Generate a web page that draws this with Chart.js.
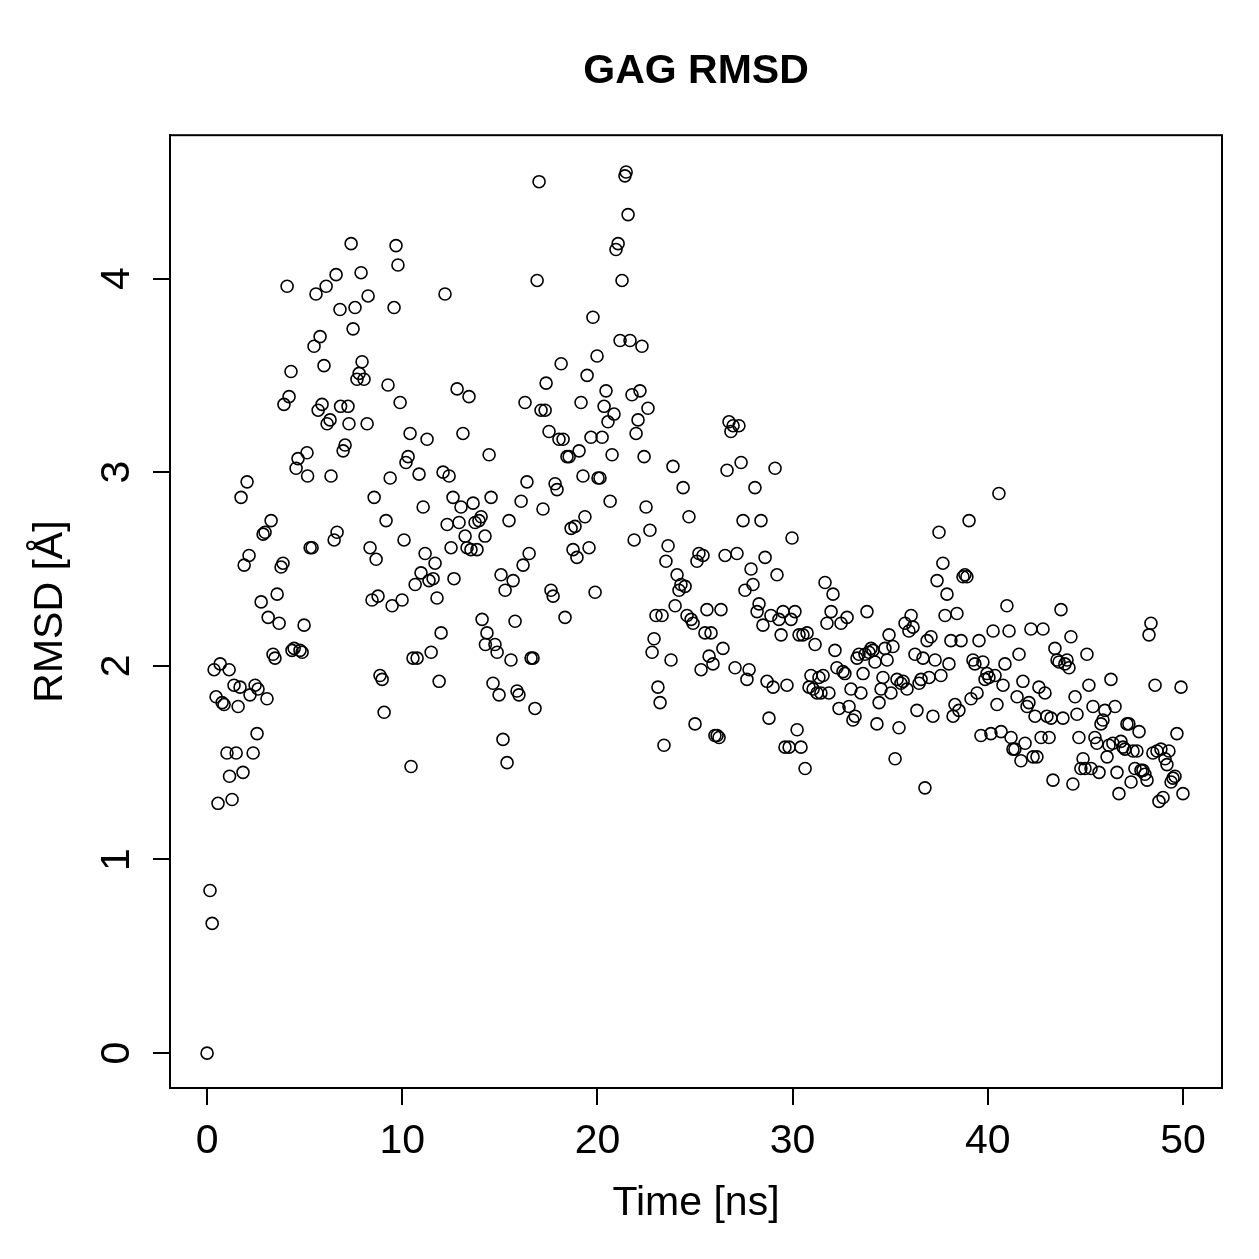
<!DOCTYPE html>
<html>
<head>
<meta charset="utf-8">
<title>GAG RMSD</title>
<script src="https://cdn.jsdelivr.net/npm/chart.js@4.4.1/dist/chart.umd.min.js"></script>
<style>
  html, body { margin: 0; padding: 0; background: #fff; }
  #wrap { width: 1259px; height: 1259px; }
</style>
</head>
<body>
<div id="wrap"><canvas id="rmsd" width="1259" height="1259"></canvas></div>
<script>
// tiempo de simulación (ns)
const timeNs = [
  0.00, 0.15, 0.26, 0.36, 0.46, 0.56, 0.67, 0.77, 0.87, 1.02,
  1.13, 1.15, 1.28, 1.38, 1.49, 1.59, 1.69, 1.74, 1.84, 1.90,
  2.05, 2.15, 2.20, 2.36, 2.46, 2.56, 2.61, 2.77, 2.87, 2.97,
  3.07, 3.13, 3.28, 3.38, 3.48, 3.59, 3.69, 3.79, 3.89, 3.94,
  4.10, 4.20, 4.30, 4.35, 4.46, 4.56, 4.66, 4.76, 4.87, 4.97,
  5.12, 5.15, 5.28, 5.38, 5.48, 5.58, 5.69, 5.79, 5.89, 5.99,
  6.10, 6.15, 6.30, 6.35, 6.51, 6.61, 6.66, 6.81, 6.84, 6.97,
  7.07, 7.22, 7.27, 7.38, 7.48, 7.58, 7.68, 7.79, 7.89, 7.94,
  8.04, 8.20, 8.25, 8.35, 8.45, 8.56, 8.66, 8.76, 8.86, 8.97,
  9.07, 9.17, 9.27, 9.38, 9.48, 9.58, 9.68, 9.78, 9.89, 9.99,
  10.09, 10.19, 10.30, 10.40, 10.45, 10.55, 10.66, 10.76, 10.86, 10.96,
  11.07, 11.17, 11.27, 11.37, 11.48, 11.58, 11.68, 11.78, 11.89, 11.99,
  12.09, 12.19, 12.30, 12.40, 12.50, 12.60, 12.65, 12.81, 12.91, 13.01,
  13.11, 13.22, 13.32, 13.42, 13.52, 13.63, 13.73, 13.83, 13.93, 14.04,
  14.09, 14.24, 14.26, 14.34, 14.45, 14.55, 14.65, 14.75, 14.86, 14.96,
  15.06, 15.16, 15.27, 15.37, 15.47, 15.57, 15.68, 15.78, 15.88, 15.98,
  16.09, 16.19, 16.29, 16.39, 16.50, 16.60, 16.70, 16.80, 16.91, 17.01,
  17.11, 17.21, 17.32, 17.37, 17.52, 17.62, 17.73, 17.83, 17.93, 18.03,
  18.14, 18.24, 18.34, 18.44, 18.55, 18.65, 18.75, 18.85, 18.95, 19.06,
  19.16, 19.26, 19.36, 19.47, 19.57, 19.67, 19.77, 19.88, 19.98, 20.03,
  20.13, 20.24, 20.34, 20.44, 20.54, 20.65, 20.75, 20.85, 20.95, 21.06,
  21.16, 21.26, 21.41, 21.47, 21.57, 21.67, 21.77, 21.88, 21.98, 22.08,
  22.18, 22.28, 22.39, 22.49, 22.59, 22.69, 22.80, 22.90, 23.00, 23.10,
  23.21, 23.31, 23.41, 23.51, 23.62, 23.77, 23.87, 23.98, 24.08, 24.18,
  24.28, 24.39, 24.49, 24.59, 24.69, 24.80, 24.90, 25.00, 25.10, 25.20,
  25.31, 25.41, 25.51, 25.61, 25.72, 25.82, 25.92, 26.02, 26.13, 26.23,
  26.33, 26.43, 26.54, 26.64, 26.74, 26.84, 26.95, 27.05, 27.15, 27.25,
  27.36, 27.46, 27.56, 27.66, 27.77, 27.87, 27.97, 28.07, 28.18, 28.28,
  28.38, 28.48, 28.59, 28.69, 28.79, 28.89, 29.00, 29.10, 29.20, 29.30,
  29.41, 29.51, 29.61, 29.71, 29.82, 29.92, 29.97, 30.12, 30.23, 30.33,
  30.43, 30.53, 30.64, 30.74, 30.84, 30.94, 31.05, 31.15, 31.25, 31.35,
  31.45, 31.56, 31.66, 31.76, 31.86, 31.97, 32.07, 32.17, 32.27, 32.38,
  32.48, 32.58, 32.68, 32.79, 32.89, 32.99, 33.09, 33.20, 33.30, 33.40,
  33.50, 33.61, 33.71, 33.81, 33.91, 34.02, 34.12, 34.22, 34.32, 34.43,
  34.53, 34.63, 34.73, 34.84, 34.94, 35.04, 35.14, 35.25, 35.35, 35.45,
  35.55, 35.66, 35.76, 35.86, 35.96, 36.07, 36.17, 36.27, 36.37, 36.48,
  36.58, 36.68, 36.78, 36.89, 36.99, 37.09, 37.19, 37.30, 37.40, 37.50,
  37.60, 37.70, 37.81, 37.91, 38.01, 38.11, 38.22, 38.32, 38.42, 38.52,
  38.63, 38.73, 38.83, 38.93, 39.04, 39.14, 39.24, 39.34, 39.45, 39.55,
  39.65, 39.75, 39.86, 39.96, 40.06, 40.16, 40.27, 40.37, 40.47, 40.57,
  40.68, 40.78, 40.88, 40.98, 41.09, 41.19, 41.29, 41.39, 41.50, 41.60,
  41.70, 41.80, 41.91, 42.01, 42.11, 42.21, 42.32, 42.42, 42.52, 42.62,
  42.73, 42.83, 42.93, 43.03, 43.14, 43.24, 43.34, 43.44, 43.55, 43.65,
  43.75, 43.85, 43.95, 44.06, 44.16, 44.26, 44.36, 44.47, 44.57, 44.67,
  44.77, 44.88, 44.98, 45.08, 45.18, 45.29, 45.39, 45.49, 45.59, 45.70,
  45.80, 45.90, 46.00, 46.11, 46.21, 46.31, 46.41, 46.52, 46.62, 46.72,
  46.82, 46.93, 47.03, 47.13, 47.23, 47.34, 47.44, 47.54, 47.64, 47.75,
  47.85, 47.95, 48.05, 48.16, 48.26, 48.36, 48.46, 48.57, 48.67, 48.77,
  48.87, 48.98, 49.08, 49.18, 49.28, 49.39, 49.49, 49.59, 49.69, 49.90,
  50.00
];

// RMSD (Å)
const rmsd = [
  0.00, 0.84, 0.67, 1.98, 1.84, 1.29, 2.01, 1.81, 1.80, 1.55,
  1.98, 1.43, 1.31, 1.90, 1.55, 1.79, 1.89, 2.87, 1.45, 2.52,
  2.95, 2.57, 1.85, 1.55, 1.90, 1.65, 1.88, 2.33, 2.68, 2.69,
  1.83, 2.25, 2.75, 2.06, 2.04, 2.37, 2.22, 2.51, 2.53, 3.35,
  3.96, 3.39, 3.52, 2.08, 2.09, 3.02, 3.07, 2.08, 2.07, 2.21,
  3.10, 2.98, 2.61, 2.61, 3.65, 3.92, 3.32, 3.70, 3.35, 3.55,
  3.96, 3.25, 3.27, 2.98, 2.65, 4.02, 2.69, 3.84, 3.34, 3.11,
  3.14, 3.34, 3.25, 4.18, 3.74, 3.85, 3.48, 3.51, 4.03, 3.57,
  3.48, 3.25, 3.91, 2.61, 2.34, 2.87, 2.55, 2.36, 1.95, 1.93,
  1.76, 2.75, 3.45, 2.97, 2.31, 3.85, 4.17, 4.07, 3.36, 2.34,
  2.65, 3.05, 3.08, 3.20, 1.48, 2.04, 2.42, 2.04, 2.99, 2.48,
  2.82, 2.58, 3.17, 2.44, 2.07, 2.45, 2.53, 2.35, 1.92, 2.17,
  3.00, 3.92, 2.73, 2.98, 2.61, 2.87, 2.45, 3.43, 2.74, 2.82,
  3.20, 2.67, 2.61, 3.39, 2.60, 2.84, 2.74, 2.60, 2.75, 2.77,
  2.24, 2.67, 2.11, 2.17, 3.09, 2.87, 1.91, 2.11, 2.07, 1.85,
  2.47, 1.62, 2.39, 1.50, 2.75, 2.03, 2.44, 2.23, 1.87, 1.85,
  2.85, 2.52, 3.36, 2.95, 2.58, 2.04, 2.04, 1.78, 3.99, 4.50,
  3.32, 2.81, 3.32, 3.46, 3.21, 2.39, 2.36, 2.94, 2.91, 3.17,
  3.56, 3.17, 2.25, 3.08, 3.08, 2.71, 2.60, 2.72, 2.56, 3.11,
  3.36, 2.98, 2.77, 3.50, 2.61, 3.18, 3.80, 2.38, 3.60, 2.97,
  2.97, 3.18, 3.34, 3.42, 3.26, 2.85, 3.09, 3.30, 4.15, 4.18,
  3.68, 3.99, 4.53, 4.55, 4.33, 3.68, 3.40, 2.65, 3.20, 3.27,
  3.42, 3.65, 3.08, 2.82, 3.33, 2.70, 2.07, 2.14, 2.26, 1.89,
  1.81, 2.26, 1.59, 2.54, 2.62, 2.03, 3.03, 2.31, 2.47, 2.39,
  2.42, 2.92, 2.41, 2.26, 2.77, 2.24, 2.22, 1.70, 2.54, 2.58,
  1.98, 2.57, 2.17, 2.29, 2.05, 2.17, 2.01, 1.64, 1.64, 1.63,
  2.29, 2.09, 2.57, 3.01, 3.26, 3.21, 3.24, 1.99, 2.58, 3.24,
  3.05, 2.75, 2.39, 1.93, 1.98, 2.50, 2.42, 2.92, 2.28, 2.32,
  2.75, 2.21, 2.56, 1.92, 1.73, 2.26, 1.89, 3.02, 2.47, 2.24,
  2.16, 2.28, 1.58, 1.90, 1.58, 2.24, 2.66, 2.28, 1.67, 2.16,
  1.58, 2.16, 1.47, 2.17, 1.89, 1.95, 1.88, 2.11, 1.86, 1.94,
  1.86, 1.95, 2.43, 2.22, 1.86, 2.28, 2.37, 2.08, 1.99, 1.78,
  2.22, 1.97, 1.96, 2.25, 1.79, 1.88, 1.72, 1.74, 2.04, 2.06,
  1.86, 1.96, 2.06, 2.28, 2.07, 2.09, 2.08, 2.02, 1.70, 1.81,
  1.88, 1.94, 2.09, 2.03, 2.16, 1.86, 2.10, 1.52, 1.93, 1.68,
  1.91, 1.92, 2.22, 1.88, 2.18, 2.26, 2.20, 2.06, 1.77, 1.91,
  1.93, 2.04, 1.37, 2.13, 1.94, 2.15, 1.74, 2.03, 2.44, 2.69,
  1.95, 2.53, 2.26, 2.37, 2.01, 2.13, 1.74, 1.80, 2.27, 1.77,
  2.13, 2.46, 2.47, 2.46, 2.75, 1.83, 2.03, 2.01, 1.86, 2.13,
  1.64, 2.02, 1.93, 1.96, 1.94, 1.65, 2.18, 1.95, 1.80, 2.89,
  1.66, 1.90, 2.01, 2.31, 2.18, 1.63, 1.57, 1.57, 1.84, 2.06,
  1.51, 1.92, 1.60, 1.79, 1.81, 2.19, 1.53, 1.74, 1.53, 1.89,
  1.63, 2.19, 1.86, 1.74, 1.63, 1.73, 1.41, 2.09, 2.03, 2.02,
  2.29, 1.73, 2.01, 2.03, 1.99, 2.15, 1.39, 1.84, 1.75, 1.63,
  1.47, 1.52, 1.47, 2.06, 1.90, 1.47, 1.79, 1.63, 1.60, 1.45,
  1.70, 1.72, 1.77, 1.53, 1.59, 1.93, 1.60, 1.79, 1.45, 1.34,
  1.61, 1.58, 1.57, 1.70, 1.70, 1.40, 1.56, 1.47, 1.56, 1.66,
  1.46, 1.46, 1.44, 1.41, 2.16, 2.22, 1.55, 1.90, 1.56, 1.30,
  1.57, 1.32, 1.52, 1.49, 1.56, 1.40, 1.42, 1.43, 1.65, 1.89,
  1.34
];

const xTicks = [0, 10, 20, 30, 40, 50];
const yTicks = [0, 1, 2, 3, 4];

const chartTitle = 'GAG RMSD';
const xTitle = 'Time [ns]';
const yTitle = 'RMSD [Å]';

const FONT = "'Liberation Sans', Arial, Helvetica, sans-serif";

// caja completa alrededor del área de datos (estilo plot() de R)
const boxPlugin = {
  id: 'box',
  afterDraw(chart) {
    const { ctx, chartArea: a } = chart;
    ctx.save();
    ctx.strokeStyle = '#000';
    ctx.lineWidth = 2;
    ctx.strokeRect(a.left, a.top, a.right - a.left, a.bottom - a.top);
    ctx.restore();
  }
};

const ctx = document.getElementById('rmsd');

new Chart(ctx, {
  type: 'scatter',
  data: {
    datasets: [{
      label: chartTitle,
      data: timeNs.map((t, i) => ({ x: t, y: rmsd[i] })),
      pointStyle: 'circle',
      pointRadius: 6,
      borderWidth: 1.6,
      borderColor: '#000',
      backgroundColor: 'rgba(0,0,0,0)',
      pointHoverRadius: 6
    }]
  },
  options: {
    responsive: false,
    animation: false,
    layout: { padding: { left: 0, right: 37, top: 0, bottom: 0 } },
    plugins: {
      legend: { display: false },
      tooltip: { enabled: false },
      title: {
        display: true,
        fullSize: false,
        text: chartTitle,
        color: '#000',
        font: { family: FONT, size: 41, weight: 'bold' },
        padding: { top: 47, bottom: 39 }
      }
    },
    scales: {
      x: {
        type: 'linear',
        min: -1.9,
        max: 52,
        afterBuildTicks: s => { s.ticks = xTicks.map(v => ({ value: v })); },
        afterFit: s => { s.height = 171; },
        grid: { drawOnChartArea: false, drawTicks: true, tickLength: 17, color: '#000', lineWidth: 2 },
        border: { display: true, color: '#000', width: 2 },
        ticks: { color: '#000', font: { family: FONT, size: 41 }, padding: 12, maxRotation: 0 },
        title: {
          display: true,
          text: xTitle,
          color: '#000',
          font: { family: FONT, size: 41 },
          padding: { top: 0, bottom: 31 }
        }
      },
      y: {
        type: 'linear',
        min: -0.18,
        max: 4.74,
        afterBuildTicks: s => { s.ticks = yTicks.map(v => ({ value: v })); },
        afterFit: s => { s.width = 170; },
        grid: { drawOnChartArea: false, drawTicks: true, tickLength: 17, color: '#000', lineWidth: 2 },
        border: { display: true, color: '#000', width: 2 },
        ticks: {
          color: '#000',
          font: { family: FONT, size: 41 },
          padding: 24,
          minRotation: 90,
          maxRotation: 90,
          crossAlign: 'center'
        },
        title: {
          display: true,
          text: yTitle,
          color: '#000',
          font: { family: FONT, size: 41 },
          padding: { top: 26, bottom: 0 }
        }
      }
    }
  },
  plugins: [boxPlugin]
});
</script>
</body>
</html>
